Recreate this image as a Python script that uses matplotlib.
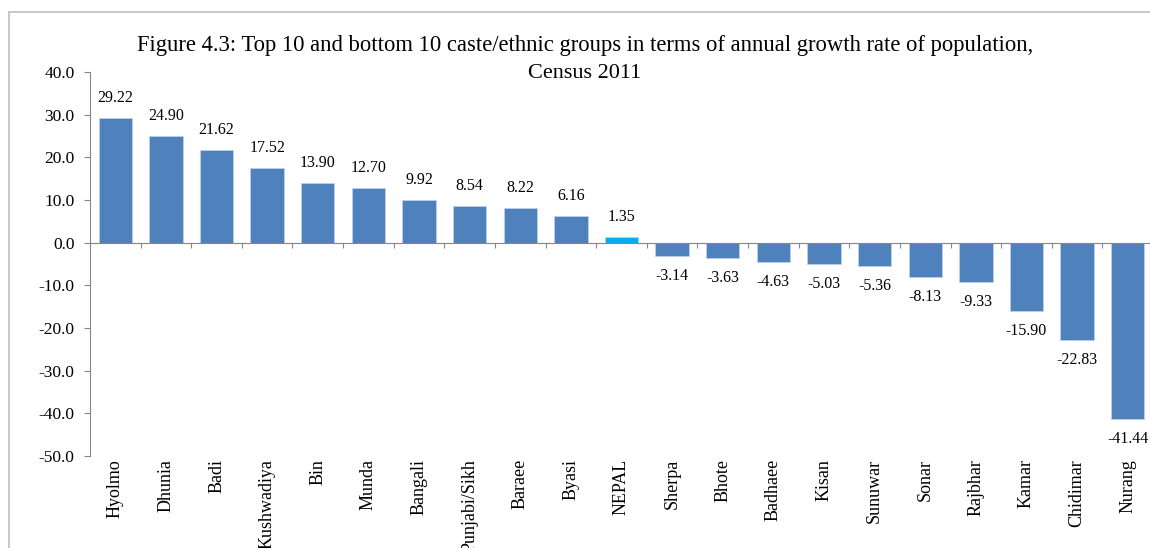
import matplotlib
matplotlib.use('Agg')
import matplotlib.pyplot as plt
from matplotlib.lines import Line2D
from matplotlib.transforms import blended_transform_factory

# данные
groups = ['Hyolmo', 'Dhunia', 'Badi', 'Kushwadiya', 'Bin', 'Munda', 'Bangali',
          'Punjabi/Sikh', 'Baraee', 'Byasi', 'NEPAL', 'Sherpa', 'Bhote',
          'Badhaee', 'Kisan', 'Sunuwar', 'Sonar', 'Rajbhar', 'Kamar',
          'Chidimar', 'Nurang']
growth = [29.22, 24.90, 21.62, 17.52, 13.90, 12.70, 9.92, 8.54, 8.22, 6.16,
          1.35, -3.14, -3.63, -4.63, -5.03, -5.36, -8.13, -9.33, -15.90,
          -22.83, -41.44]
yticks = [40, 30, 20, 10, 0, -10, -20, -30, -40, -50]

plt.rcParams['font.family'] = ['Liberation Serif', 'DejaVu Serif']

W, H = 1150, 548
fig = plt.figure(figsize=(W / 100, H / 100), dpi=100)
ax = fig.add_axes([90 / W, 92 / H, (W - 90) / W + 3 / W, 384 / H])

colors = ['#00B0F0' if g == 'NEPAL' else '#4F81BD' for g in groups]
x = list(range(len(groups)))
ax.bar(x, growth, width=0.66, color=colors, edgecolor='#BFD0E6',
       linewidth=0.6, zorder=2)

ax.set_xlim(-0.5, len(groups) - 0.5)
ax.set_ylim(-50, 40)
ax.set_yticks(yticks)
ax.set_yticklabels([f'{v:.1f}' for v in yticks], fontsize=12.5)

axis_col = '#868686'
for s in ['top', 'right']:
    ax.spines[s].set_visible(False)
ax.spines['left'].set_color(axis_col)
ax.spines['bottom'].set_color(axis_col)
ax.spines['bottom'].set_position(('data', 0))
ax.set_xticks([i + 0.5 for i in range(len(groups))])
ax.set_xticklabels([])
ax.tick_params(axis='x', direction='out', length=3.5, color=axis_col)
ax.tick_params(axis='y', direction='out', length=4, color=axis_col, pad=7)

# подписи значений
for i, v in enumerate(growth):
    off = 14.4 if v >= 0 else -14.4
    ax.annotate(f'{v:.2f}', (i, v), xytext=(0, off), textcoords='offset points',
                ha='center', va='center', fontsize=11.5)

# подписи категорий внизу
trans = blended_transform_factory(ax.transData, ax.transAxes)
for i, g in enumerate(groups):
    ax.annotate(g, (i, 0), xycoords=trans, xytext=(0, -2),
                textcoords='offset points', rotation=90,
                ha='center', va='top', fontsize=13)

fig.text(585 / W, 1 - 45 / H,
         'Figure 4.3: Top 10 and bottom 10 caste/ethnic groups in terms of annual growth rate of population,',
         ha='center', va='center', fontsize=16.3)
fig.text(585 / W, 1 - 73 / H, 'Census 2011', ha='center', va='center',
         fontsize=16)

# рамка
fig.add_artist(Line2D([9 / W, 9 / W], [0, 1 - 12 / H], color='#BFBFBF',
                      lw=1.2, transform=fig.transFigure))
fig.add_artist(Line2D([9 / W, 1], [1 - 12 / H, 1 - 12 / H], color='#BFBFBF',
                      lw=1.2, transform=fig.transFigure))

fig.savefig('out.png', dpi=100)
